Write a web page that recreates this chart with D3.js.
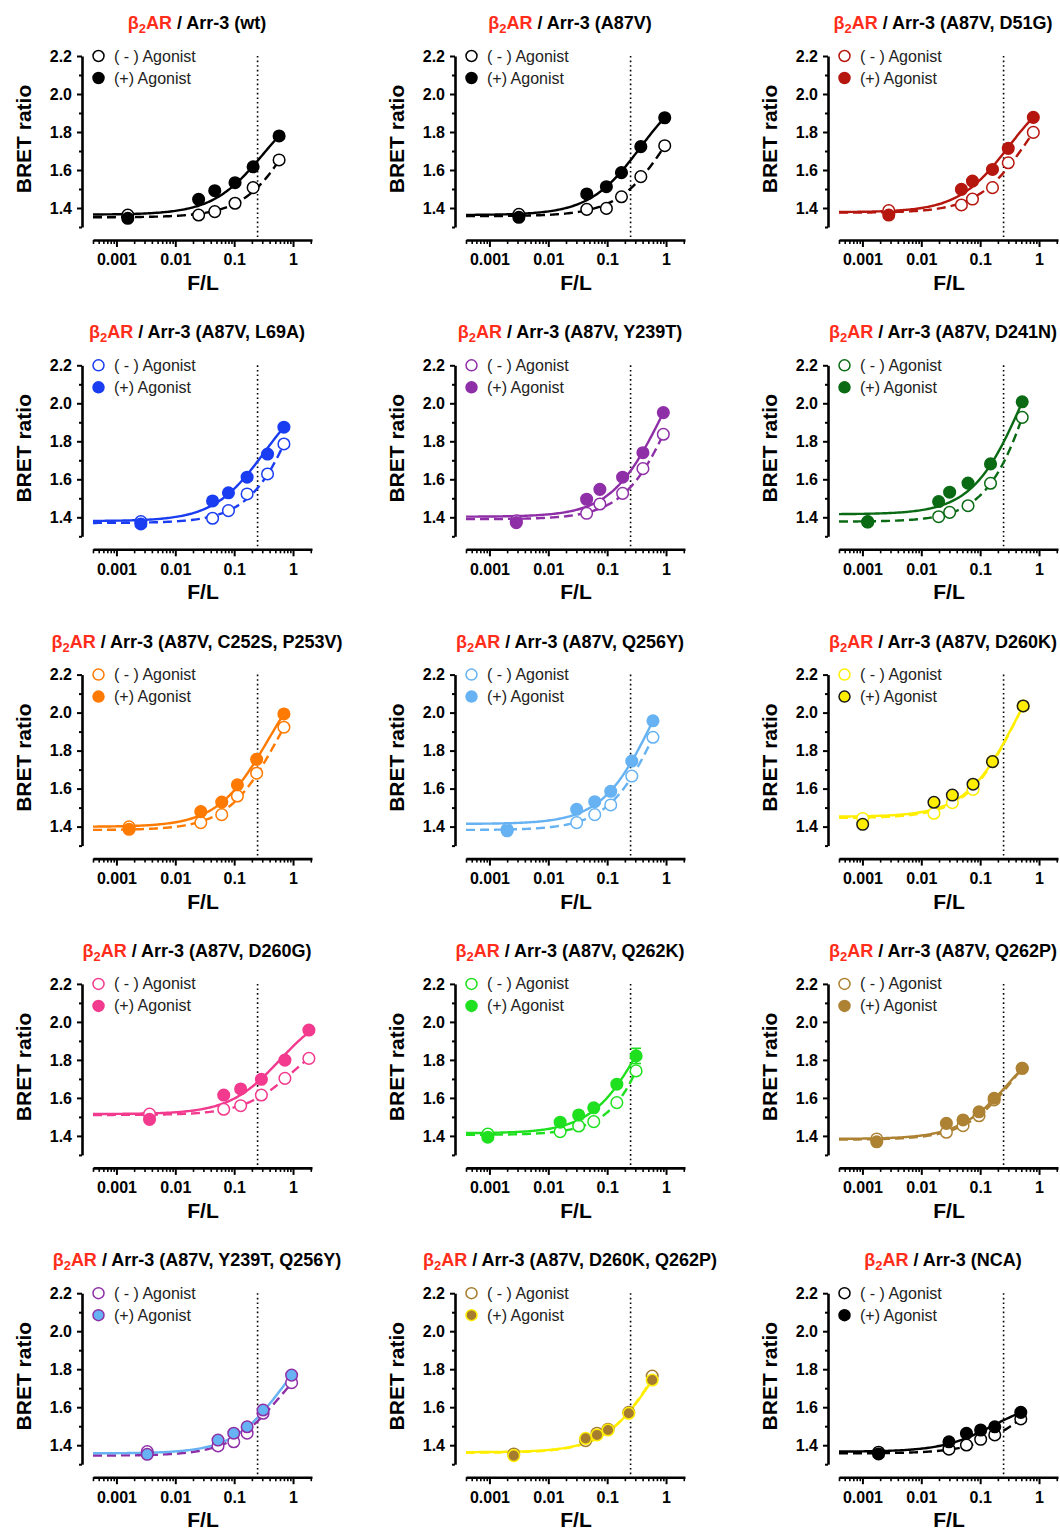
<!DOCTYPE html>
<html>
<head>
<meta charset="utf-8">
<script src="https://cdn.jsdelivr.net/npm/d3@7"></script>
<style>
  body { margin: 0; background: #fff; }
  svg { display: block; font-family: "Liberation Sans", Arial, sans-serif; }
</style>
</head>
<body>
<script>
// mutant label inside "Arr-3 ( ... )", panel order left->right, top->bottom
const mutants = [
  "wt", "A87V", "A87V, D51G",
  "A87V, L69A", "A87V, Y239T", "A87V, D241N",
  "A87V, C252S, P253V", "A87V, Q256Y", "A87V, D260K",
  "A87V, D260G", "A87V, Q262K", "A87V, Q262P",
  "A87V, Y239T, Q256Y", "A87V, D260K, Q262P", "NCA"
];

// F/L ratio of each titration point
const flValues = [
  [0.00156, 0.0249, 0.0468, 0.1035, 0.21, 0.58],
  [0.00316, 0.045, 0.097, 0.175, 0.373, 0.95],
  [0.0028, 0.048, 0.074, 0.162, 0.30, 0.80],
  [0.0026, 0.043, 0.080, 0.166, 0.369, 0.70],
  [0.00286, 0.0448, 0.0752, 0.183, 0.405, 0.90],
  [0.00123, 0.0197, 0.0303, 0.0622, 0.150, 0.518],
  [0.00164, 0.0271, 0.0615, 0.1135, 0.241, 0.70],
  [0.0020, 0.0303, 0.0615, 0.115, 0.262, 0.60],
  [0.00101, 0.0164, 0.0337, 0.0757, 0.162, 0.538],
  [0.00365, 0.0665, 0.129, 0.29, 0.728, 1.86],
  [0.00094, 0.0159, 0.0328, 0.0592, 0.146, 0.31],
  [0.00175, 0.0267, 0.0512, 0.0957, 0.173, 0.518],
  [0.00334, 0.0532, 0.0984, 0.166, 0.31, 0.946],
  [0.00259, 0.0431, 0.0673, 0.1035, 0.233, 0.582],
  [0.00188, 0.0295, 0.0585, 0.102, 0.177, 0.49]
];

// BRET ratio, (-) agonist
const minusAgonist = [
  [1.363, 1.363, 1.381, 1.425, 1.507, 1.653],
  [1.367, 1.393, 1.398, 1.459, 1.565, 1.728],
  [1.386, 1.416, 1.447, 1.507, 1.638, 1.798],
  [1.377, 1.395, 1.435, 1.523, 1.628, 1.786],
  [1.381, 1.421, 1.470, 1.526, 1.656, 1.837],
  [1.375, 1.403, 1.426, 1.461, 1.579, 1.926],
  [1.399, 1.421, 1.463, 1.561, 1.681, 1.923],
  [1.385, 1.421, 1.463, 1.514, 1.666, 1.870],
  [1.443, 1.470, 1.526, 1.596, 1.742, 2.035],
  [1.515, 1.540, 1.559, 1.615, 1.703, 1.808],
  [1.410, 1.422, 1.452, 1.475, 1.575, 1.742],
  [1.384, 1.419, 1.454, 1.506, 1.589, 1.756],
  [1.366, 1.396, 1.418, 1.463, 1.568, 1.729],
  [1.354, 1.424, 1.463, 1.484, 1.573, 1.764],
  [1.363, 1.379, 1.401, 1.431, 1.454, 1.538]
];

// BRET ratio, (+) agonist
const plusAgonist = [
  [1.346, 1.446, 1.491, 1.533, 1.617, 1.779],
  [1.351, 1.474, 1.512, 1.586, 1.723, 1.875],
  [1.363, 1.498, 1.542, 1.603, 1.714, 1.877],
  [1.365, 1.486, 1.529, 1.611, 1.733, 1.874],
  [1.372, 1.495, 1.547, 1.611, 1.740, 1.951],
  [1.377, 1.483, 1.532, 1.580, 1.681, 2.008],
  [1.386, 1.479, 1.529, 1.620, 1.754, 1.993],
  [1.378, 1.491, 1.531, 1.586, 1.745, 1.957],
  [1.412, 1.528, 1.566, 1.623, 1.742, 2.035],
  [1.487, 1.615, 1.647, 1.698, 1.799, 1.957],
  [1.393, 1.472, 1.510, 1.548, 1.672, 1.821],
  [1.369, 1.466, 1.484, 1.527, 1.598, 1.756],
  [1.352, 1.427, 1.463, 1.497, 1.585, 1.769],
  [1.345, 1.436, 1.454, 1.480, 1.568, 1.743],
  [1.354, 1.418, 1.462, 1.480, 1.497, 1.573]
];

// SEM of (+) agonist points (only visible outside the marker for Q262K)
const plusErr = [
  [0,0,0,0,0,0], [0,0,0,0,0,0], [0,0,0,0,0,0],
  [0,0,0,0,0,0], [0,0,0,0,0,0], [0,0,0,0,0,0],
  [0,0,0,0,0,0], [0,0,0,0,0,0], [0,0,0,0,0,0],
  [0,0,0,0,0,0], [0,0,0,0,0,0.04], [0,0,0,0,0,0],
  [0,0,0,0,0,0], [0,0,0,0,0,0], [0,0,0,0,0,0]
];

// fitted curves: [bottom, Bmax, Kd] of y = bottom + Bmax*x/(Kd+x)
const fitMinus = [
  [1.351, 0.951, 1.259], [1.357, 0.821, 1.159], [1.375, 0.779, 0.674],
  [1.370, 1.387, 1.633], [1.390, 1.209, 1.535], [1.377, 1.920, 1.290],
  [1.382, 0.981, 0.572], [1.382, 1.151, 0.815], [1.445, 1.065, 0.433],
  [1.510, 0.476, 1.090], [1.405, 3.100, 2.520], [1.380, 0.673, 0.409],
  [1.345, 0.629, 0.618], [1.360, 0.850, 0.685], [1.357, 0.380, 0.544]
];
const fitPlus = [
  [1.365, 0.638, 0.312], [1.363, 0.709, 0.364], [1.378, 0.692, 0.307],
  [1.380, 0.724, 0.326], [1.403, 1.067, 0.855], [1.416, 1.224, 0.556],
  [1.399, 0.916, 0.379], [1.414, 1.086, 0.600], [1.452, 1.033, 0.415],
  [1.515, 0.570, 0.600], [1.414, 0.954, 0.411], [1.384, 0.607, 0.327],
  [1.357, 0.709, 0.689], [1.363, 0.827, 0.685], [1.366, 0.274, 0.164]
];

const xMajor = [0.001, 0.01, 0.1, 1];
const xTickLabels = ["0.001", "0.01", "0.1", "1"];
const yMajor = [1.4, 1.6, 1.8, 2.0, 2.2];
const yMinor = [1.3, 1.5, 1.7, 1.9, 2.1];
const flMarker = 0.25;
const legendLabels = ["( - ) Agonist", "(+) Agonist"];

// styles per panel: minus stroke, plus fill, plus stroke, solid line, dashed line
const palette = [
  ["#000000", "#000000", "#000000", "#000000", "#000000"],
  ["#000000", "#000000", "#000000", "#000000", "#000000"],
  ["#b5170f", "#b5170f", "#b5170f", "#b5170f", "#b5170f"],
  ["#1a3df2", "#1a3df2", "#1a3df2", "#1a3df2", "#1a3df2"],
  ["#8f2fa8", "#8f2fa8", "#8f2fa8", "#8f2fa8", "#8f2fa8"],
  ["#0a6b14", "#0a6b14", "#0a6b14", "#0a6b14", "#0a6b14"],
  ["#ff7a00", "#ff7a00", "#ff7a00", "#ff7a00", "#ff7a00"],
  ["#66b2f2", "#66b2f2", "#66b2f2", "#66b2f2", "#66b2f2"],
  ["#ffee00", "#ffee00", "#1a1a1a", "#ffee00", "#ffee00"],
  ["#f23a8e", "#f23a8e", "#f23a8e", "#f23a8e", "#f23a8e"],
  ["#1fe01f", "#1fe01f", "#1fe01f", "#1fe01f", "#1fe01f"],
  ["#ad8233", "#ad8233", "#ad8233", "#ad8233", "#ad8233"],
  ["#8f2fa8", "#66b2f2", "#8f2fa8", "#66b2f2", "#8f2fa8"],
  ["#a67c2e", "#a67c2e", "#ffee00", "#ffee00", "#ffee00"],
  ["#000000", "#000000", "#000000", "#000000", "#000000"]
];
const titleRed = "#ff2d1a";

const svg = d3.select("body").append("svg")
  .attr("width", 1060)
  .attr("height", 1532);

function fitPoints(p, xStart, xEnd) {
  const [bottom, bmax, kd] = p;
  const lo = Math.log10(xStart), hi = Math.log10(xEnd);
  return d3.range(0, 121).map(k => {
    const f = Math.pow(10, lo + (hi - lo) * k / 120);
    return [f, bottom + bmax * f / (kd + f)];
  });
}

function styleAxis(g, width) {
  g.attr("font-family", null).attr("font-size", null);
  g.select(".domain").attr("stroke-width", width);
  g.selectAll(".tick line").attr("stroke-width", 2);
  g.selectAll(".tick text")
    .attr("font-size", 16)
    .attr("font-weight", "bold")
    .attr("fill", "#000");
}

mutants.forEach((name, i) => {
  const c = i % 3, r = Math.floor(i / 3);
  const ax = 82 + 373 * c;
  const top = 56 + 309.3 * r;
  const [cMinus, cPlusFill, cPlusStroke, cSolid, cDash] = palette[i];

  const x = d3.scaleLog().domain([0.0004, 2.1]).range([ax + 11, ax + 230]);
  const y = d3.scaleLinear().domain([1.3, 2.2]).range([top + 171, top]);
  const xAxisY = top + 184;

  const g = svg.append("g");

  // title
  const title = g.append("text")
    .attr("x", ax + 115)
    .attr("y", top - 27)
    .attr("text-anchor", "middle")
    .attr("font-size", 18)
    .attr("font-weight", "bold");
  title.append("tspan").attr("fill", titleRed).text("β");
  title.append("tspan").attr("fill", titleRed).attr("font-size", 13).attr("dy", 4).text("2");
  title.append("tspan").attr("fill", titleRed).attr("dy", -4).text("AR");
  title.append("tspan").attr("fill", "#000").text(" / Arr-3 (" + name + ")");

  // y axis
  g.append("g")
    .attr("transform", `translate(${ax},0)`)
    .call(d3.axisLeft(y).tickValues(yMinor).tickSize(3).tickFormat(""))
    .call(a => a.select(".domain").remove())
    .call(a => a.selectAll(".tick line").attr("stroke-width", 2));
  g.append("g")
    .attr("transform", `translate(${ax},0)`)
    .call(d3.axisLeft(y).tickValues(yMajor).tickSize(5).tickSizeOuter(0).tickPadding(5)
      .tickFormat(d3.format(".1f")))
    .call(a => styleAxis(a, 2.6));

  // x axis
  const xMinor = [];
  [-4, -3, -2, -1, 0].forEach(e => {
    d3.range(2, 10).forEach(k => {
      const v = k * Math.pow(10, e);
      if (v >= 0.0004 && v <= 2.1) xMinor.push(v);
    });
  });
  g.append("g")
    .attr("transform", `translate(0,${xAxisY})`)
    .call(d3.axisBottom(x).tickValues(xMinor).tickSize(4).tickFormat(""))
    .call(a => a.select(".domain").remove())
    .call(a => a.selectAll(".tick line").attr("stroke-width", 1.6));
  g.append("g")
    .attr("transform", `translate(0,${xAxisY})`)
    .call(d3.axisBottom(x).tickValues(xMajor).tickSize(7).tickSizeOuter(0).tickPadding(7)
      .tickFormat((d, k) => xTickLabels[k]))
    .call(a => styleAxis(a, 2.6));

  // axis titles
  g.append("text")
    .attr("transform", `translate(${ax - 51},${top + 83}) rotate(-90)`)
    .attr("text-anchor", "middle")
    .attr("font-size", 21)
    .attr("font-weight", "bold")
    .text("BRET ratio");
  g.append("text")
    .attr("x", ax + 121)
    .attr("y", xAxisY + 50)
    .attr("text-anchor", "middle")
    .attr("font-size", 21)
    .attr("font-weight", "bold")
    .text("F/L");

  // dotted reference line
  g.append("line")
    .attr("x1", x(flMarker)).attr("x2", x(flMarker))
    .attr("y1", y(2.2)).attr("y2", xAxisY)
    .attr("stroke", "#000")
    .attr("stroke-width", 1.6)
    .attr("stroke-dasharray", "1.6,3");

  // fitted curves
  const line = d3.line().curve(d3.curveLinear).x(d => x(d[0])).y(d => y(d[1]));
  const xEnd = flValues[i][flValues[i].length - 1];
  g.append("path")
    .attr("fill", "none")
    .attr("stroke", cDash)
    .attr("stroke-width", 2.4)
    .attr("stroke-dasharray", "9,5")
    .attr("d", line(fitPoints(fitMinus[i], 0.0004, xEnd)));
  g.append("path")
    .attr("fill", "none")
    .attr("stroke", cSolid)
    .attr("stroke-width", 2.4)
    .attr("d", line(fitPoints(fitPlus[i], 0.0004, xEnd)));

  // error bars
  const errs = flValues[i].map((f, k) => ({ f, v: plusAgonist[i][k], e: plusErr[i][k] }))
    .filter(d => d.e > 0);
  errs.forEach(d => {
    g.append("line")
      .attr("x1", x(d.f)).attr("x2", x(d.f))
      .attr("y1", y(d.v + d.e)).attr("y2", y(d.v - d.e))
      .attr("stroke", cPlusStroke).attr("stroke-width", 1.6);
    [d.v + d.e, d.v - d.e].forEach(v => {
      g.append("line")
        .attr("x1", x(d.f) - 5).attr("x2", x(d.f) + 5)
        .attr("y1", y(v)).attr("y2", y(v))
        .attr("stroke", cPlusStroke).attr("stroke-width", 1.6);
    });
  });

  // points
  g.append("g").selectAll("circle")
    .data(flValues[i].map((f, k) => [f, minusAgonist[i][k]]))
    .join("circle")
    .attr("cx", d => x(d[0]))
    .attr("cy", d => y(d[1]))
    .attr("r", 5.8)
    .attr("fill", "#fff")
    .attr("stroke", cMinus)
    .attr("stroke-width", 1.5);
  g.append("g").selectAll("circle")
    .data(flValues[i].map((f, k) => [f, plusAgonist[i][k]]))
    .join("circle")
    .attr("cx", d => x(d[0]))
    .attr("cy", d => y(d[1]))
    .attr("r", 5.8)
    .attr("fill", cPlusFill)
    .attr("stroke", cPlusStroke)
    .attr("stroke-width", 1.5);

  // legend
  legendLabels.forEach((lab, k) => {
    const ly = top + 22 * k;
    g.append("circle")
      .attr("cx", ax + 16.5)
      .attr("cy", ly)
      .attr("r", 5.5)
      .attr("fill", k === 0 ? "#fff" : cPlusFill)
      .attr("stroke", k === 0 ? cMinus : cPlusStroke)
      .attr("stroke-width", 1.5);
    g.append("text")
      .attr("x", ax + 32)
      .attr("y", ly + 5.5)
      .attr("font-size", 16)
      .attr("fill", "#222")
      .text(lab);
  });
});
</script>
</body>
</html>
